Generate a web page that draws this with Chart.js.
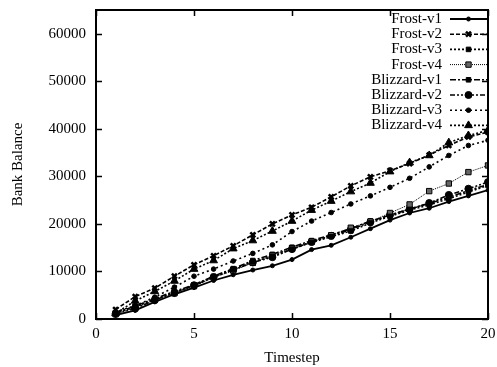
<!DOCTYPE html>
<html>
<head>
<meta charset="utf-8">
<script src="https://cdn.jsdelivr.net/npm/chart.js@4.4.1/dist/chart.umd.min.js"></script>
<style>
html,body{margin:0;padding:0;background:#fff;}
#wrap{width:497px;height:367px;}
</style>
</head>
<body>
<div id="wrap"><canvas id="c" width="497" height="367"></canvas></div>
<script>
const timesteps = [1,2,3,4,5,6,7,8,9,10,11,12,13,14,15,16,17,18,19,20];
const seriesNames = ["Frost-v1","Frost-v2","Frost-v3","Frost-v4","Blizzard-v1","Blizzard-v2","Blizzard-v3","Blizzard-v4"];
const frostV1     = [800,1800,3600,5200,6600,8100,9300,10300,11200,12500,14600,15500,17200,19000,20800,22300,23300,24700,25900,27100];
const frostV2     = [2000,4700,6500,9000,11400,13300,15400,17700,20000,21900,23500,25700,28000,29900,31200,32700,34500,36500,38300,39300];
const frostV3     = [1200,2600,4100,5600,7000,8900,10400,12000,13200,14700,16100,17300,18500,20200,21600,22900,24000,25300,26700,28100];
const frostV4     = [1000,2400,4000,5400,6900,8700,10200,11800,13400,14900,16300,17600,19200,20500,22300,24100,26900,28500,30900,32300];
const blizzardV1  = [1300,2700,4300,5800,7200,9000,10600,12300,13600,15100,16500,17700,19000,20600,21800,23200,24300,25600,27000,28300];
const blizzardV2  = [1100,2200,4000,5500,7100,8800,10300,11900,13000,14700,16200,17500,18800,20400,21900,23100,24400,26100,27400,28800];
const blizzardV3  = [1500,2800,4600,6700,9000,10500,12200,13800,15600,18400,20600,22400,24200,25900,27700,29600,32000,34400,36500,37600];
const blizzardV4  = [1200,3800,5800,8000,10500,12300,14800,16500,18500,20600,22900,24800,26800,28600,31000,32900,34400,37100,38600,39700];
const xTicks = [0,5,10,15,20];
const yTicks = [0,10000,20000,30000,40000,50000,60000];

const allValues = [frostV1,frostV2,frostV3,frostV4,blizzardV1,blizzardV2,blizzardV3,blizzardV4];
const styles = [
  {dash:[], w:1.8, ps:'circle', r:2, bg:'#000'},
  {dash:[4,2], w:1.6, ps:'crossRot', r:3.5, bg:'#000', bw:2.5},
  {dash:[2,2], w:1.6, ps:'rect', r:3.2, bg:'#000'},
  {dash:[1,1], w:1, ps:'rect', r:3.8, bg:'#666'},
  {dash:[6,2,2,2], w:1.6, ps:'rect', r:3.2, bg:'#000'},
  {dash:[5,2,2,2,2,2], w:1.6, ps:'circle', r:3.5, bg:'#000'},
  {dash:[2,3], w:1.6, ps:'circle', r:2.3, bg:'#000'},
  {dash:[2,2], w:1.6, ps:'triangle', r:4.5, bg:'#000'}
];
const FONT = "'Liberation Serif','Times New Roman',serif";

const datasets = seriesNames.map((name,i)=>({
  label: name,
  data: timesteps.map((t,j)=>({x:t, y:allValues[i][j]})),
  borderColor:'#000',
  borderWidth: styles[i].w,
  borderDash: styles[i].dash,
  pointStyle: styles[i].ps,
  pointRadius: styles[i].r,
  pointBackgroundColor: styles[i].bg,
  pointBorderColor:'#000',
  pointBorderWidth: styles[i].bw || 1,
  fill:false,
  tension:0
}));

const innerTicks = {
  id:'innerTicks',
  afterDraw(chart){
    const ctx = chart.ctx, a = chart.chartArea;
    const xs = chart.scales.x, ys = chart.scales.y;
    ctx.save();
    ctx.strokeStyle='#000'; ctx.lineWidth=1.5; ctx.setLineDash([]);
    const L=6;
    xTicks.forEach(v=>{
      const px = Math.round(xs.getPixelForValue(v))+0.5;
      ctx.beginPath(); ctx.moveTo(px,a.bottom); ctx.lineTo(px,a.bottom-L);
      ctx.moveTo(px,a.top); ctx.lineTo(px,a.top+L); ctx.stroke();
    });
    yTicks.forEach(v=>{
      const py = Math.round(ys.getPixelForValue(v))+0.5;
      ctx.beginPath(); ctx.moveTo(a.left,py); ctx.lineTo(a.left+L,py);
      ctx.moveTo(a.right,py); ctx.lineTo(a.right-L,py); ctx.stroke();
    });
    ctx.lineWidth=2;
    ctx.strokeRect(a.left,a.top,a.right-a.left,a.bottom-a.top);
    // legend
    ctx.font = "15px " + FONT;
    ctx.fillStyle='#000';
    ctx.textAlign='right'; ctx.textBaseline='middle';
    chart.data.datasets.forEach((ds,i)=>{
      const y = 19 + i*15.2;
      ctx.fillText(ds.label, 442, y);
      ctx.save();
      ctx.lineWidth = ds.borderWidth; ctx.setLineDash(ds.borderDash);
      ctx.beginPath(); ctx.moveTo(450,y); ctx.lineTo(487,y); ctx.stroke();
      ctx.restore();
      ctx.save();
      ctx.fillStyle = ds.pointBackgroundColor; ctx.strokeStyle='#000';
      ctx.lineWidth = ds.pointBorderWidth;
      Chart.helpers.drawPoint(ctx,{pointStyle:ds.pointStyle, radius:ds.pointRadius, borderWidth:ds.pointBorderWidth, rotation:0}, 468.5, y);
      ctx.restore();
    });
    ctx.restore();
  }
};

new Chart(document.getElementById('c'),{
  type:'line',
  data:{datasets},
  options:{
    responsive:false, animation:false, devicePixelRatio:1,
    layout:{padding:{left:0,right:9,top:10,bottom:0}},
    plugins:{legend:{display:false}, tooltip:{enabled:false}},
    scales:{
      x:{type:'linear', min:0, max:20,
        afterBuildTicks(s){ s.ticks = xTicks.map(v=>({value:v})); },
        ticks:{color:'#000', font:{family:FONT,size:15}, padding:6, maxRotation:0, autoSkip:false},
        grid:{display:false, drawTicks:false},
        border:{display:false},
        title:{display:true, text:'Timestep', color:'#000', font:{family:FONT,size:15}, padding:{top:2,bottom:0}},
        afterFit(s){ s.height = 48; s.paddingLeft = 0; s.paddingRight = 0; }
      },
      y:{type:'linear', min:0, max:65000,
        afterBuildTicks(s){ s.ticks = yTicks.map(v=>({value:v})); },
        ticks:{color:'#000', font:{family:FONT,size:15}, padding:10, autoSkip:false,
          callback:(v)=> String(v)},
        grid:{display:false, drawTicks:false},
        border:{display:false},
        title:{display:true, text:'Bank Balance', color:'#000', font:{family:FONT,size:15}, padding:{top:9,bottom:0}},
        afterFit(s){ s.width = 96; s.paddingTop = 0; s.paddingBottom = 0; }
      }
    }
  },
  plugins:[innerTicks]
});
</script>
</body>
</html>
